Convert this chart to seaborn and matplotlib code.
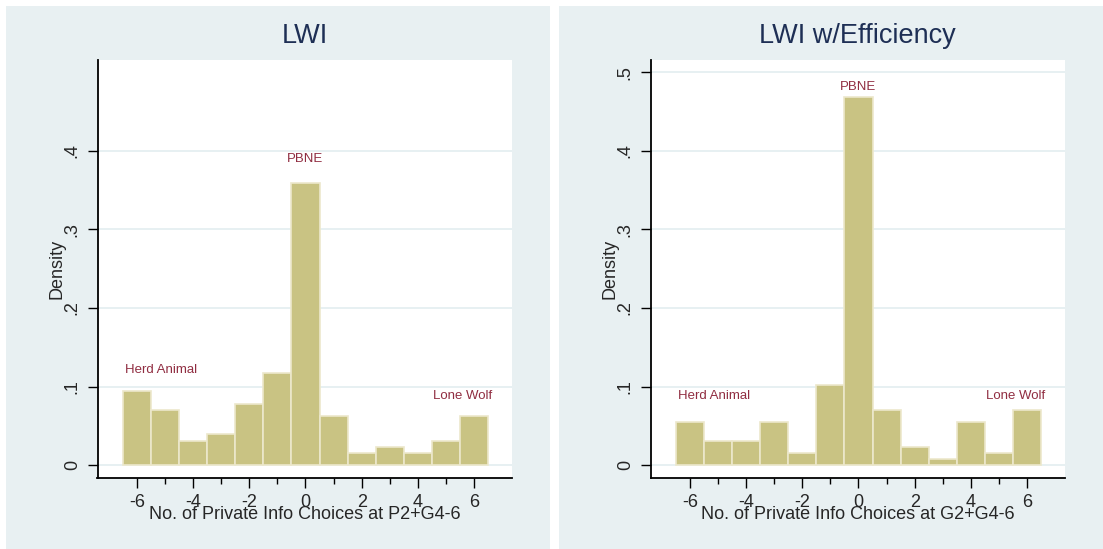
import numpy as np
import pandas as pd
import matplotlib.pyplot as plt
import matplotlib.patches as mpatches
import seaborn as sns

# Style
sns.set_theme(style="white")
plt.rcParams['font.family'] = ['Liberation Sans', 'DejaVu Sans']

# Data: number of subjects per value (13 bins, -6..6), shown as density
choices = np.arange(-6, 7)
lwi_counts = [12, 9, 4, 5, 10, 15, 46, 8, 2, 3, 2, 4, 8]
eff_counts = [7, 4, 4, 7, 2, 13, 60, 9, 3, 1, 7, 2, 9]

titles = ["LWI", "LWI w/Efficiency"]
xlabels = ["No. of Private Info Choices at P2+G4-6",
           "No. of Private Info Choices at G2+G4-6"]
yticks_left = [0, 0.1, 0.2, 0.3, 0.4]
yticks_right = [0, 0.1, 0.2, 0.3, 0.4, 0.5]
xticks_major = [-6, -4, -2, 0, 2, 4, 6]
xticks_minor = [-5, -3, -1, 1, 3, 5]

# annotations: (text, x, y) per panel
notes_left = [("Herd Animal", -5.13, 0.121), ("PBNE", 0, 0.39), ("Lone Wolf", 5.58, 0.088)]
notes_right = [("Herd Animal", -5.13, 0.088), ("PBNE", 0, 0.481), ("Lone Wolf", 5.58, 0.088)]

bg = "#E8F0F2"
bar_color = "#C9C383"
note_color = "#902D41"
title_color = "#1E2F55"

W, H = 1103, 549
fig = plt.figure(figsize=(W / 100, H / 100), dpi=100)
fig.patch.set_facecolor("white")

# panel backgrounds (Stata style)
for x0, x1 in [(6, 550), (559, 1103)]:
    fig.add_artist(mpatches.Rectangle((x0 / W, 0), (x1 - x0) / W, 1 - 6 / H,
                                      transform=fig.transFigure, facecolor=bg,
                                      edgecolor="none", zorder=0))

ax_w = (512 - 97.5) / W
ax_h = (477.7 - 59.6) / H
ax_b = 1 - 477.7 / H
axes = [fig.add_axes([97.5 / W, ax_b, ax_w, ax_h]),
        fig.add_axes([650.5 / W, ax_b, ax_w, ax_h])]

panels = [(lwi_counts, yticks_left, notes_left), (eff_counts, yticks_right, notes_right)]

for i, (ax, (counts, yticks, notes)) in enumerate(zip(axes, panels)):
    ax.set_facecolor("white")
    ax.set_axisbelow(True)
    for y in yticks:
        ax.axhline(y, color="#E3EDF0", lw=1.2, zorder=0)

    df = pd.DataFrame({"choice": choices, "n": counts})
    sns.histplot(data=df, x="choice", weights="n", binwidth=1,
                 binrange=(-6.5, 6.5), stat="density",
                 color=bar_color, edgecolor="#ECE8CC", linewidth=1.2,
                 alpha=1, ax=ax)

    ax.set_xlim(-7.4, 7.35)
    ax.set_ylim(-0.016, 0.516)

    ax.set_xticks(xticks_major)
    ax.set_xticks(xticks_minor, minor=True)
    ax.set_xticklabels([str(t) for t in xticks_major], fontsize=13)
    ax.set_yticks(yticks)
    ax.set_yticklabels(["0" if t == 0 else ("%.1f" % t)[1:] for t in yticks],
                       fontsize=13, rotation=90, va="center")
    ax.tick_params(axis="both", which="major", length=7, width=1, color="black",
                   direction="out", pad=5, bottom=True, left=True)
    ax.tick_params(axis="x", which="minor", length=4, width=1, color="black",
                   direction="out", bottom=True)

    for side in ["top", "right"]:
        ax.spines[side].set_visible(False)
    for side in ["left", "bottom"]:
        ax.spines[side].set_color("black")
        ax.spines[side].set_linewidth(1.3)

    ax.set_xlabel(xlabels[i], fontsize=13, labelpad=-4)
    ax.set_ylabel("Density", fontsize=13, labelpad=-1)
    ax.set_title(titles[i], fontsize=19.5, color=title_color, pad=12)

    for text, x, y in notes:
        ax.text(x, y, text, color=note_color, fontsize=9.5,
                ha="center", va="center")

plt.savefig("out.png", dpi=100)
